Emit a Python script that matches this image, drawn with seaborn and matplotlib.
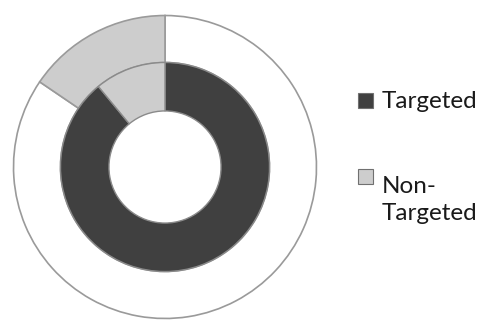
import matplotlib
matplotlib.use("Agg")
import matplotlib.pyplot as plt
from matplotlib.patches import Rectangle
import seaborn as sns

# Значения колец (в процентах)
labels = ["Targeted", "Non-\nTargeted"]
inner_values = [89, 11]
outer_values = [84.5, 15.5]

sns.set_theme(style="white")
plt.rcParams['font.family'] = ['Lato', 'DejaVu Sans']

dark = "#404040"
light = "#cdcdcd"
W, H = 481, 325

fig = plt.figure(figsize=(W / 100, H / 100), dpi=100)
ax = fig.add_axes([12 / W, 5 / H, 306 / W, 306 / H])

# Внешнее кольцо
ax.pie(outer_values, radius=1.0, colors=["white", light], startangle=90,
       counterclock=False,
       wedgeprops=dict(width=0.31, edgecolor="#9a9a9a", linewidth=1.2))

# Внутреннее кольцо
wedges, _ = ax.pie(inner_values, radius=0.69, colors=[dark, light], startangle=90,
                   counterclock=False,
                   wedgeprops=dict(width=0.32, edgecolor="#8a8a8a", linewidth=1.0))
ax.set_xlim(-1.01, 1.01)
ax.set_ylim(-1.01, 1.01)
ax.set_aspect("equal")
ax.axis("off")

# Легенда вручную (маркер выровнен по первой строке)
box_tops = [93, 169]
last_baselines = [108, 220]
for w, lab, top, base in zip(wedges, labels, box_tops, last_baselines):
    fig.patches.append(Rectangle((358 / W, 1 - (top + 15) / H), 15 / W, 15 / H,
                                 transform=fig.transFigure, facecolor=w.get_facecolor(),
                                 edgecolor="#707070", linewidth=0.8))
    fig.text(382 / W, 1 - base / H, lab, fontsize=17.5, color="#1a1a1a",
             va="baseline", ha="left", linespacing=1.36)

fig.savefig("out.png", dpi=100)
